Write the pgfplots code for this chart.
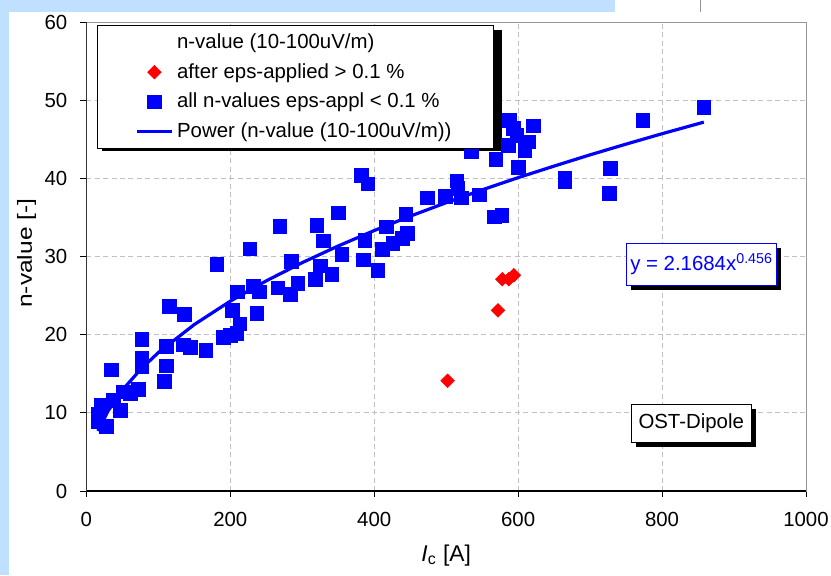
\documentclass[border=0pt]{standalone}
\usepackage{fontspec}
\setmainfont{Liberation Sans}
\usepackage{pgfplots}
\pgfplotsset{compat=1.18}
\usetikzlibrary{shadows}
\definecolor{bgblue}{RGB}{191,224,255}
\definecolor{gridgray}{RGB}{192,192,192}
\definecolor{framegray}{RGB}{150,150,150}
\newcommand{\fs}{\fontsize{10.2}{12.2}\selectfont}
\tikzset{myshadow/.style={drop shadow={shadow xshift=2.2pt, shadow yshift=-2.2pt, fill=black, opacity=1}}}
\begin{document}
\begin{tikzpicture}
\useasboundingbox (-43.2pt,-42pt) rectangle (372.3pt,245.5pt);
\fill[white] (-43.2pt,-42pt) rectangle (372.3pt,245.5pt);
\fill[bgblue] (-43.2pt,-42pt) rectangle (-38.7pt,245.5pt);
\fill[bgblue] (-43.2pt,239.5pt) rectangle (264.3pt,245.5pt);
\draw[framegray, line width=0.5pt] (307.1pt,239.5pt) -- (307.1pt,245.5pt);
\begin{axis}[
  at={(0,0)}, anchor=south west,
  scale only axis, width=359.8pt, height=234.5pt,
  xmin=0, xmax=1000, ymin=0, ymax=60,
  xtick={0,200,...,1000}, ytick={0,10,...,60},
  grid=major,
  grid style={gridgray, dash pattern=on 2.5pt off 1.7pt, line width=0.5pt},
  axis line style={framegray, line width=0.5pt},
  tick align=outside, tick pos=left, major tick length=3pt,
  tick style={black, line width=0.5pt},
  xlabel={\textit{I}\textsubscript{c} [A]},
  ylabel={\scalebox{1.2}[1]{n-value [-]}},
  label style={font=\fs},
  xlabel style={font=\fontsize{11.4}{13}\selectfont},
  tick label style={font=\fs},
  /pgf/number format/assume math mode=true,
  /pgf/number format/1000 sep={},
  xticklabel style={yshift=-4pt},
  yticklabel style={xshift=-3pt},
  ylabel style={at={(axis description cs:-0.083,0.507)}, anchor=center},
  xlabel style={at={(axis description cs:0.5,-0.138)}, anchor=center},
  legend cell align=left,
  legend style={at={(rel axis cs:0.0151,0.9936)}, anchor=north west,
    draw=black, line width=0.5pt, fill=white, font=\fs,
    inner xsep=19pt, inner ysep=2pt, row sep=2pt},
]
\fill[black] (rel axis cs:0.0214,0.7245) rectangle (rel axis cs:0.5770,0.984);
\addlegendimage{empty legend}
\addlegendentry{n-value (10-100uV/m)}
\addplot[only marks, red, mark=square*, mark size=2.4pt,
  mark options={rotate=45, fill=red, draw=red, line width=0.3pt}]
  coordinates {(502,14.1) (572,23.1) (578,27.1) (587,27.1) (594,27.6)};
\addlegendentry{after eps-applied > 0.1 \%}
\addplot[only marks, blue, mark=square*, mark size=3.4pt,
  mark options={fill=blue, draw=blue, line width=0.3pt}]
  coordinates {
  (16.5,8.9) (16.5,9.9) (21,11.0) (28,8.3) (37,11.6) (35,15.5) (47,10.3)
  (51,12.7) (61,12.5) (72,13.0) (77,15.9) (77,17.0) (77,19.4) (108,14.0)
  (111,16.0) (111,18.5) (115,23.6) (135,18.7) (144,18.4) (136,22.6)
  (166,18.0) (181,29.0) (190,19.7) (200,19.9) (209,20.2) (213,21.4)
  (203,23.1) (210,25.5) (227,31.0) (232,26.2) (240,25.5) (237,22.7)
  (266,26.0) (269,33.9) (283,25.2) (285,29.4) (294,26.6) (318,27.1)
  (320,34.0) (325,28.8) (329,32.0) (341,27.7) (350,35.6) (355,30.3)
  (382,40.4) (391,39.3) (387,32.1) (385,29.6) (405,28.2) (411,30.9)
  (417,33.8) (426,31.7) (439,32.3) (446,33.0) (444,35.4) (474,37.5)
  (499,37.7) (515,39.7) (516,38.7) (521,37.5) (535,43.4) (546,37.9)
  (567,35.1) (577,35.3) (569,42.4) (586,44.2) (588,47.4) (593,46.4)
  (598,45.5) (600,41.4) (609,43.6) (614,44.7) (621,46.7) (665,40.0)
  (665,39.6) (728,41.3) (727,38.1) (773,47.4) (858,49.1)};
\addlegendentry{all n-values eps-appl < 0.1 \%}
\addplot[blue, line width=1.6pt, no marks] coordinates {
  (16,7.68) (30,10.23) (50,12.91) (75,15.53) (100,17.71) (150,21.30)
  (200,24.29) (250,26.89) (300,29.22) (350,31.35) (400,33.32) (450,35.16)
  (500,36.89) (550,38.53) (600,40.09) (650,41.57) (700,43.01) (750,44.38)
  (800,45.71) (858,47.19)};
\addlegendentry{Power (n-value (10-100uV/m))}
\draw[black, line width=0.6pt] (rel axis cs:0,1) -- (rel axis cs:0,0) -- (rel axis cs:1,0);
\node[draw=blue, fill=white, text=blue, font=\fs, line width=0.5pt,
  minimum width=75.3pt, minimum height=21.2pt, inner sep=1pt, myshadow]
  at (axis cs:855,29.0) {y = 2.1684x\textsuperscript{0.456}};
\node[draw=black, fill=white, text=black, font=\fs, line width=0.5pt,
  minimum width=60pt, minimum height=19pt, inner sep=1pt, myshadow]
  at (axis cs:840.5,8.66) {OST-Dipole};
\end{axis}
\end{tikzpicture}
\end{document}
